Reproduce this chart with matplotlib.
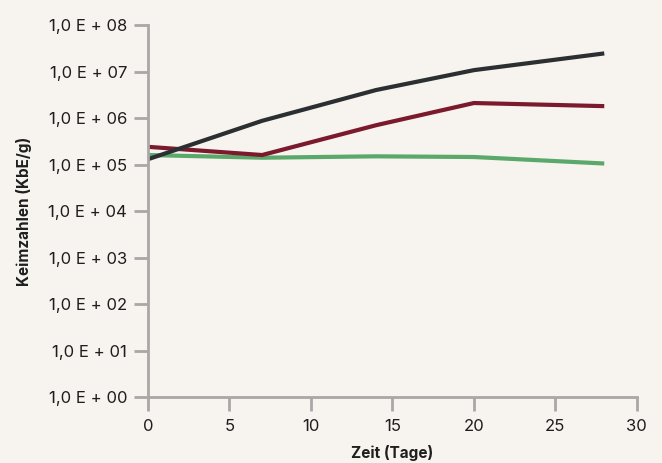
import numpy as np
import matplotlib
matplotlib.use("Agg")
import matplotlib.pyplot as plt
from matplotlib.ticker import FixedLocator, FixedFormatter

plt.rcParams['font.family'] = ['Inter', 'DejaVu Sans']

# Daten
tage = [0, 7, 14, 20, 28]
keime_schwarz = [1.3e5, 8.7e5, 4.0e6, 1.07e7, 2.45e7]
keime_rot = [2.4e5, 1.6e5, 7.0e5, 2.1e6, 1.8e6]
keime_gruen = [1.6e5, 1.4e5, 1.5e5, 1.45e5, 1.05e5]

y_ticks = [1e0, 1e1, 1e2, 1e3, 1e4, 1e5, 1e6, 1e7, 1e8]
y_labels = ["1,0 E + 00", "1,0 E + 01", "1,0 E + 02", "1,0 E + 03", "1,0 E + 04",
            "1,0 E + 05", "1,0 E + 06", "1,0 E + 07", "1,0 E + 08"]
x_ticks = [0, 5, 10, 15, 20, 25, 30]

bg = "#f7f3ef"
fig = plt.figure(figsize=(6.62, 4.63), dpi=100, facecolor=bg)
ax = fig.add_axes([0.2236, 0.1425, 0.962 - 0.2236, 0.946 - 0.1425])
ax.set_facecolor(bg)

ax.plot(tage, keime_gruen, color="#5aa86a", lw=3, solid_capstyle="butt")
ax.plot(tage, keime_rot, color="#7b1a2c", lw=3, solid_capstyle="butt")
ax.plot(tage, keime_schwarz, color="#2b2f31", lw=3, solid_capstyle="butt")

ax.set_yscale("log")
ax.set_ylim(1e0, 1e8)
ax.set_xlim(0, 30)
ax.yaxis.set_major_locator(FixedLocator(y_ticks))
ax.yaxis.set_major_formatter(FixedFormatter(y_labels))
ax.yaxis.set_minor_locator(FixedLocator([]))
ax.set_xticks(x_ticks)

for s in ["top", "right"]:
    ax.spines[s].set_visible(False)
for s in ["left", "bottom"]:
    ax.spines[s].set_color("#a9a7a7")
    ax.spines[s].set_linewidth(2)
ax.tick_params(axis="both", colors="#a9a7a7", width=2, length=10,
               labelcolor="#1e1e1e", labelsize=12)
ax.tick_params(axis="y", pad=5)
ax.tick_params(axis="x", pad=6)

ax.set_ylabel("Keimzahlen (KbE/g)", fontsize=11, fontweight="bold", color="#1e1e1e", labelpad=12)
ax.set_xlabel("Zeit (Tage)", fontsize=11, fontweight="bold", color="#1e1e1e", labelpad=8)

fig.savefig("out.png", dpi=100, facecolor=bg)
